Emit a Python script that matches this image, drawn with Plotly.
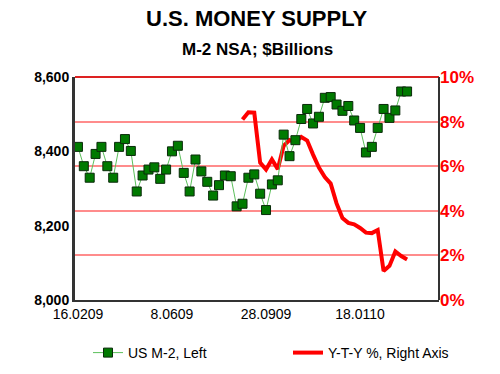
import plotly.graph_objects as go
import pandas as pd

# Weekly observations starting 16 Feb 2009
weeks = pd.date_range("2009-02-16", periods=57, freq="7D")

m2_values = [8412, 8360, 8329, 8393, 8412, 8360, 8329, 8412, 8433, 8401,
             8292, 8335, 8351, 8357, 8326, 8351, 8400, 8415, 8342, 8292,
             8378, 8346, 8318, 8281, 8309, 8335, 8333, 8252, 8259, 8329,
             8338, 8286, 8242, 8311, 8322, 8445, 8387, 8430, 8487, 8514,
             8475, 8493, 8544, 8546, 8526, 8509, 8522, 8483, 8463, 8397,
             8412, 8463, 8514, 8490, 8510, 8561, 8561]

yty_start = 28
yty_values = [8.09, 8.42, 8.40, 6.16, 5.85, 6.30, 5.87, 6.92, 7.17, 7.08,
              7.31, 7.15, 6.52, 5.94, 5.51, 5.22, 4.33, 3.68, 3.46, 3.39,
              3.23, 3.02, 3.00, 3.14, 1.30, 1.53, 2.18, 1.97, 1.82]
yty_dates = weeks[yty_start:yty_start + len(yty_values)]

tick_dates = ["2009-02-16", "2009-06-08", "2009-09-28", "2010-01-18"]
tick_labels = ["16.0209", "8.0609", "28.0909", "18.0110"]
left_ticks = [8000, 8200, 8400, 8600]
left_labels = ["8,000", "8,200", "8,400", "8,600"]
right_ticks = [0, 2, 4, 6, 8, 10]
right_labels = ["0%", "2%", "4%", "6%", "8%", "10%"]

FONT = "Liberation Sans, Arial, sans-serif"
PLOT_TOP, PLOT_BOTTOM = 77, 300


def paper_y(px):
    return (PLOT_BOTTOM - px) / (PLOT_BOTTOM - PLOT_TOP)


fig = go.Figure()
fig.add_trace(go.Scatter(
    x=weeks, y=m2_values, name="US M-2, Left", yaxis="y2",
    mode="lines+markers", legend="legend",
    line=dict(color="#5cc05c", width=1),
    marker=dict(symbol="square", size=9, color="#007a00",
                line=dict(color="#0a2a0a", width=1)),
))
fig.add_trace(go.Scatter(
    x=yty_dates, y=yty_values, name="Y-T-Y %, Right Axis", yaxis="y",
    mode="lines", legend="legend2", line=dict(color="#ff0000", width=4),
))

legend_common = dict(orientation="h", xref="container", yref="container",
                     y=1 - 353 / 374, xanchor="left", yanchor="middle",
                     font=dict(size=14, family=FONT, color="black"),
                     bgcolor="rgba(0,0,0,0)")

fig.update_layout(
    template="none",
    width=500, height=374,
    margin=dict(l=75, r=61, t=PLOT_TOP, b=374 - PLOT_BOTTOM, autoexpand=False),
    paper_bgcolor="white", plot_bgcolor="white",
    font=dict(family=FONT, color="black"),
    showlegend=True,
    legend=dict(x=88 / 500, **legend_common),
    legend2=dict(x=288 / 500, **legend_common),
    xaxis=dict(
        type="date", range=["2009-02-12 12:00", "2010-04-22"],
        tickvals=tick_dates, ticktext=tick_labels, ticks="",
        showgrid=False, zeroline=False, automargin=False,
        showline=True, linecolor="#333333", linewidth=2,
        tickfont=dict(size=14, family=FONT, color="black"),
    ),
    yaxis=dict(
        side="right", range=[0, 10], tickvals=right_ticks,
        ticktext=right_labels, ticks="", automargin=False,
        showgrid=True, gridcolor="#ff8c8c", gridwidth=2,
        zeroline=False, showline=False,
        tickfont=dict(size=17, family=FONT, color="#ff0000", weight="bold"),
    ),
    yaxis2=dict(
        overlaying="y", side="left", range=[8000, 8600],
        tickvals=left_ticks, ticktext=left_labels, ticks="", automargin=False,
        showgrid=False, zeroline=False,
        showline=True, linecolor="#333333", linewidth=3,
        tickfont=dict(size=14, family=FONT, color="black", weight="bold"),
    ),
    shapes=[
        dict(type="line", xref="paper", yref="paper", x0=0, x1=1,
             y0=1, y1=1, line=dict(color="#dd2222", width=2)),
        dict(type="line", xref="paper", yref="paper", x0=1, x1=1,
             y0=0, y1=1, line=dict(color="#333333", width=2)),
    ],
    annotations=[
        dict(text="<b>U.S. MONEY SUPPLY</b>", xref="paper", yref="paper",
             x=0.5, y=paper_y(19), xanchor="center", yanchor="middle",
             showarrow=False, font=dict(size=22, family=FONT, color="black")),
        dict(text="<b>M-2 NSA; $Billions</b>", xref="paper", yref="paper",
             x=0.5, y=paper_y(49), xanchor="center", yanchor="middle",
             showarrow=False, font=dict(size=17, family=FONT, color="black")),
    ],
)

fig.write_html("out.html", config={"displayModeBar": False},
               post_script="document.body.style.margin='0';")
